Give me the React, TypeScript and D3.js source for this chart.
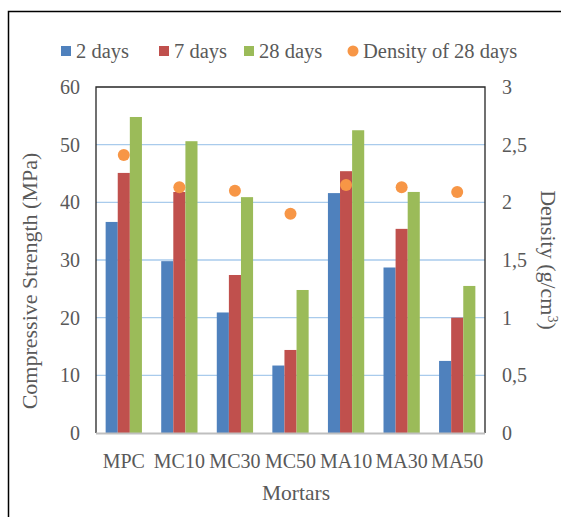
import React from "react";
import * as d3 from "d3";

const mortars = ["MPC", "MC10", "MC30", "MC50", "MA10", "MA30", "MA50"];
const days2 = [36.6, 29.8, 20.9, 11.7, 41.6, 28.7, 12.5];
const days7 = [45.1, 41.8, 27.4, 14.4, 45.4, 35.4, 20.0];
const days28 = [54.8, 50.6, 40.9, 24.8, 52.5, 41.8, 25.5];
const density28 = [2.41, 2.13, 2.1, 1.9, 2.15, 2.13, 2.09];
const leftTicks = [0, 10, 20, 30, 40, 50, 60];
const rightTicks = [0, 0.5, 1, 1.5, 2, 2.5, 3];

const seriesNames = ["2 days", "7 days", "28 days"];
const colors = ["#4F81BD", "#C0504D", "#9BBB59"];
const dotColor = "#F79646";
const textColor = "#595959";
const font = '"Liberation Serif", "Times New Roman", Times, "DejaVu Serif", serif';

const W = 561;
const H = 517;
const plot = { left: 96, right: 485, top: 87, bottom: 433 };

const App: React.FC = () => {
  const x = d3
    .scaleBand()
    .domain(mortars)
    .range([plot.left, plot.right])
    .paddingInner(0)
    .paddingOuter(0);
  const inner = d3
    .scaleBand()
    .domain(seriesNames)
    .range([0, x.bandwidth() * 0.653]);
  const groupOffset = (x.bandwidth() - x.bandwidth() * 0.653) / 2;
  const y = d3.scaleLinear().domain([0, 60]).range([plot.bottom, plot.top]);
  const y2 = d3.scaleLinear().domain([0, 3]).range([plot.bottom, plot.top]);

  const series = [days2, days7, days28];
  const fmt = (v: number) => String(v).replace(".", ",");
  const txt = (size: number): React.CSSProperties => ({
    fontFamily: font,
    fontSize: size,
    fill: textColor,
  });

  const legend = [
    { label: "2 days", color: colors[0], x: 61, shape: "rect" },
    { label: "7 days", color: colors[1], x: 159, shape: "rect" },
    { label: "28 days", color: colors[2], x: 244, shape: "rect" },
    { label: "Density of 28 days", color: dotColor, x: 348, shape: "circle" },
  ];

  return (
    <svg width={W} height={H} style={{ position: "absolute", left: 0, top: 0 }}>
      <rect x={0} y={0} width={W} height={H} fill="#fff" />
      {/* outer frame, open at right and bottom */}
      <path d={`M8.5,${H} V11.5 H${W}`} fill="none" stroke="#000" strokeWidth={1.5} />

      {/* legend */}
      {legend.map((d) => (
        <g key={d.label}>
          {d.shape === "rect" ? (
            <rect x={d.x} y={46} width={10} height={10} fill={d.color} />
          ) : (
            <circle cx={d.x + 5} cy={51} r={5.5} fill={d.color} />
          )}
          <text x={d.x + 15} y={58} style={txt(20.5)}>
            {d.label}
          </text>
        </g>
      ))}

      {/* gridlines */}
      {leftTicks
        .filter((t) => t > 0 && t < 60)
        .map((t) => (
          <line
            key={t}
            x1={plot.left}
            x2={plot.right}
            y1={y(t)}
            y2={y(t)}
            stroke="#A9CBEC"
            strokeWidth={1.3}
          />
        ))}

      {/* bars */}
      {series.map((vals, si) =>
        vals.map((v, i) => (
          <rect
            key={`${si}-${i}`}
            x={x(mortars[i])! + groupOffset + inner(seriesNames[si])!}
            y={y(v)}
            width={inner.bandwidth()}
            height={y(0) - y(v)}
            fill={colors[si]}
          />
        ))
      )}

      {/* density dots */}
      {density28.map((v, i) => (
        <circle
          key={i}
          cx={x(mortars[i])! + x.bandwidth() / 2}
          cy={y2(v)}
          r={6}
          fill={dotColor}
        />
      ))}

      {/* plot frame */}
      <path
        d={`M${plot.left},${plot.bottom} V${plot.top} H${plot.right} V${plot.bottom}`}
        fill="none"
        stroke="#262626"
        strokeWidth={1.3}
      />
      <line
        x1={plot.left}
        x2={plot.right}
        y1={plot.bottom + 0.5}
        y2={plot.bottom + 0.5}
        stroke="#BFBFBF"
        strokeWidth={2}
      />

      {/* left ticks */}
      {leftTicks.map((t) => (
        <text key={t} x={80} y={y(t)} dy="0.35em" textAnchor="end" style={txt(20)}>
          {t}
        </text>
      ))}

      {/* right ticks */}
      {rightTicks.map((t) => (
        <text key={t} x={502} y={y2(t)} dy="0.35em" textAnchor="start" style={txt(20)}>
          {fmt(t)}
        </text>
      ))}

      {/* x labels */}
      {mortars.map((m) => (
        <text
          key={m}
          x={x(m)! + x.bandwidth() / 2}
          y={468}
          textAnchor="middle"
          style={txt(20)}
        >
          {m}
        </text>
      ))}

      {/* axis titles */}
      <text x={296} y={500} textAnchor="middle" style={txt(21.5)}>
        Mortars
      </text>
      <text transform="translate(37,281) rotate(-90)" textAnchor="middle" style={txt(22)}>
        Compressive Strength (MPa)
      </text>
      <text transform="translate(541,260) rotate(90)" textAnchor="middle" style={txt(22)}>
        Density (g/cm
        <tspan dy={-7} style={{ fontSize: 14 }}>
          3
        </tspan>
        <tspan dy={7}>)</tspan>
      </text>
    </svg>
  );
};

export default App;
